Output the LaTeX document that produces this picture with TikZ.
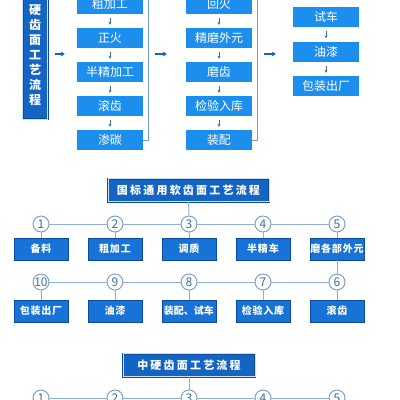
\documentclass[tikz,border=0pt]{standalone}
\usepackage{fontspec}
\setmainfont{Noto Sans CJK SC}
\newfontfamily\cjkwide[LetterSpace=20]{Noto Sans CJK SC}
\newfontfamily\cjkspaced[LetterSpace=8]{Noto Sans CJK SC}
\usetikzlibrary{arrows.meta,positioning,calc}
\definecolor{GearSky}{HTML}{1C8EEE}
\definecolor{GearBlue}{HTML}{1873D8}
\definecolor{GearDeep}{HTML}{1464C4}
\definecolor{GearEdge}{HTML}{0B4C9E}
\definecolor{GearLine}{HTML}{8DB0D6}
\definecolor{GearRing}{HTML}{6F9CCF}
\definecolor{GearNum}{HTML}{3F6E9F}

\begin{document}
\begin{tikzpicture}[x=1pt,y=-1pt,
    stepbox/.style={fill=GearSky,text=white,minimum width=66pt,minimum height=20pt,
      inner sep=0pt,font=\fontsize{12}{14}\selectfont},
    flowbox/.style={fill=GearBlue,draw=GearEdge,line width=0.8pt,text=white,
      minimum width=54pt,minimum height=22pt,inner sep=0pt,
      font=\fontsize{10}{12}\cjkspaced\bfseries},
    headbox/.style={fill=GearDeep,draw=GearEdge,double=white!80!GearDeep,
      double distance=0.6pt,line width=0.7pt,text=white,inner sep=0pt,
      minimum height=23pt,font=\fontsize{11}{13}\cjkwide\bfseries},
    numdot/.style={circle,draw=GearRing,fill=white,line width=0.9pt,minimum size=16pt,
      inner sep=0pt,text=GearNum,font=\fontsize{12}{12}\selectfont},
    link/.style={draw=GearLine,line width=1pt},
    tick/.style={-{Stealth[length=3pt,width=3pt]},draw=GearNum,line width=0.6pt,
      shorten <=4pt,shorten >=3pt},
    fatarr/.style={-{Stealth[length=4pt,width=5pt]},draw=GearDeep,line width=1.4pt}]
  \useasboundingbox (0,0) rectangle (400,400);

  % hard-tooth flow, top block
  \node[headbox,minimum width=25pt,minimum height=128pt,
    font=\fontsize{12}{15}\selectfont\bfseries,align=center] (hardT) at (35,55)
    {硬\\齿\\面\\工\\艺\\流\\程};
  \foreach \t [count=\i] in {粗加工,正火,半精加工,滚齿,渗碳}
    \node[stepbox] (a\i) at (110,{4+34*(\i-1)}) {\t};
  \foreach \t [count=\i] in {回火,精磨外元,磨齿,检验入库,装配}
    \node[stepbox] (c\i) at (219,{4+34*(\i-1)}) {\t};
  \foreach \t [count=\i] in {试车,油漆,包装出厂}
    \node[stepbox] (e\i) at (326,{17+34.5*(\i-1)}) {\t};
  \foreach \i/\j in {1/2,2/3,3/4,4/5} {
    \draw[tick] (a\i) -- (a\j);
    \draw[tick] (c\i) -- (c\j);
  }
  \foreach \i/\j in {1/2,2/3}
    \draw[tick] (e\i) -- (e\j);
  % brackets closing the columns
  \coordinate (brkA) at (148,-20);
  \coordinate (brkC) at (257,-20);
  \draw[link,draw=GearRing,line width=0.6pt] (a5.east) -| (brkA);
  \draw[link,draw=GearRing,line width=0.6pt] (c5.east) -| (brkC);
  \coordinate (midA) at (148,54);
  \coordinate (midC) at (257,54);
  \draw[fatarr,shorten <=7pt,shorten >=12pt] (hardT.east |- midA) -- (a1.west |- midA);
  \draw[fatarr,shorten <=7pt,shorten >=19pt] (midA) -- (c1.west |- midA);
  \draw[fatarr,shorten <=7pt,shorten >=17pt] (midC) -- (e1.west |- midC);

  % national soft-tooth flow
  \node[headbox,minimum width=161pt] (softT) at (188.5,190) {国标通用软齿面工艺流程};
  \foreach \lab [count=\i] in {备料,粗加工,调质,半精车,磨各部外元} {
    \node[numdot] (n\i) at ({41+74*(\i-1)},224) {\i};
    \node[flowbox] (b\i) at ({41+74*(\i-1)},249) {\lab};
    \draw[link] (n\i) -- (b\i);
  }
  \foreach \lab/\k [count=\i] in {包装出厂/10,油漆/9,{\rmfamily\bfseries 装配、试车}/8,检验入库/7,滚齿/6} {
    \node[numdot] (n\k) at ({41+74*(\i-1)},282) {\k};
    \node[flowbox] (b\k) at ({41+74*(\i-1)},311) {\lab};
    \draw[link] (n\k) -- (b\k);
  }
  \foreach \i/\j in {1/2,2/3,3/4,4/5,6/7,7/8,8/9,9/10}
    \draw[link] (n\i) -- (n\j);
  \draw[link] (softT) -- (n3);
  \draw[link] (b5) -- (n6);

  % medium-hard tooth flow
  \node[headbox,minimum width=132pt] (midT) at (189,365) {中硬齿面工艺流程};
  \foreach \i in {1,...,5}
    \node[numdot] (m\i) at ({41+74*(\i-1)},398) {\i};
  \foreach \i/\j in {1/2,2/3,3/4,4/5}
    \draw[link] (m\i) -- (m\j);
  \draw[link] (midT) -- (m3);
\end{tikzpicture}
\end{document}
